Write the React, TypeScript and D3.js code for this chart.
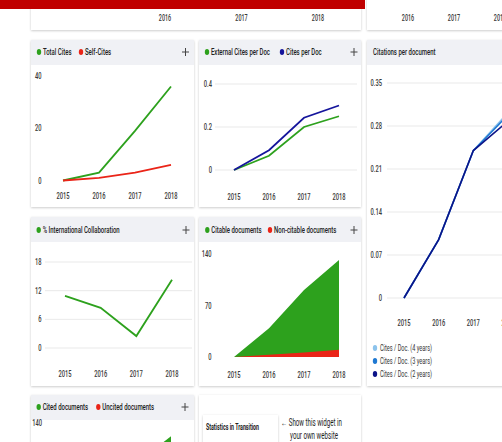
import * as d3 from "d3";

const years = ["2015", "2016", "2017", "2018"];
const topYears = ["2016", "2017", "2018"];

const totalCites = [0, 3, 19, 36];
const selfCites = [0, 1, 3, 6];
const externalCitesPerDoc = [0, 0.066, 0.2, 0.25];
const citesPerDoc = [0, 0.092, 0.243, 0.3];
const citesDoc4 = [0, 0.095, 0.24, 0.302];
const citesDoc3 = [0, 0.095, 0.24, 0.298];
const citesDoc2 = [0, 0.095, 0.24, 0.288];
const intlCollab = [10.9, 8.4, 2.5, 14.3];
const citableDocs = [0, 39, 91, 132];
const nonCitableDocs = [0, 3, 6, 10];
const citedDocs = [0, 37, 84, 122];
const uncitedDocs = [0, 3, 5, 8];

const ticksCites = [0, 20, 40];
const ticksPerDoc = [0, 0.2, 0.4];
const ticksCpd = [0, 0.07, 0.14, 0.21, 0.28, 0.35];
const ticksIntl = [0, 6, 12, 18];
const ticksDocs = [0, 70, 140];

const GREEN = "#2da11d";
const RED = "#ea2418";
const NAVY = "#15159c";
const CPD4 = "#8cc3ec";
const CPD3 = "#1f78d2";
const CPD2 = "#0c1488";
const FONT = "Roboto, 'Liberation Sans', Arial, sans-serif";

function T({ x, y, children, size = 9.5, sx = 0.63, anchor = "start", weight = 400, fill = "#333" }: any) {
  return (
    <text
      transform={`translate(${x},${y}) scale(${sx},1)`}
      fontSize={size}
      textAnchor={anchor}
      fontWeight={weight}
      fill={fill}
      fontFamily={FONT}
      dy="0.35em"
    >
      {children}
    </text>
  );
}

function Card({ x, y, w, h, header = true }: any) {
  return (
    <g>
      <rect x={x} y={y} width={w} height={h} fill="#fff" filter="url(#shadow)" />
      {header && <rect x={x} y={y} width={w} height={25} fill="#f0f1f5" />}
    </g>
  );
}

function Plus({ x, y }: any) {
  return (
    <path d={`M${x - 3.5},${y}H${x + 3.5}M${x},${y - 4}V${y + 4}`} stroke="#444" strokeWidth={1} />
  );
}

function Legend({ items, y }: any) {
  return (
    <g>
      {items.map((it: any, i: number) => (
        <g key={i}>
          <ellipse cx={it.x} cy={y} rx={2.2} ry={2.9} fill={it.color} />
          <T x={it.x + 4} y={y} weight={500} fill="#222">{it.label}</T>
        </g>
      ))}
    </g>
  );
}

function YLabels({ ticks, y, x, fmt = (d: number) => String(d) }: any) {
  return (
    <g>
      {ticks.map((t: number) => (
        <T key={t} x={x} y={y(t)} anchor="end" size={9} sx={0.64} weight={500} fill="#3a3a3a">{fmt(t)}</T>
      ))}
    </g>
  );
}

function XLabels({ x, y }: any) {
  return (
    <g>
      {years.map((yr) => (
        <T key={yr} x={x(yr)} y={y} anchor="middle" size={9} sx={0.64} weight={500} fill="#3a3a3a">{yr}</T>
      ))}
    </g>
  );
}

function Grid({ ticks, y, x0, x1 }: any) {
  return (
    <g>
      {ticks.map((t: number) => (
        <line key={t} x1={x0} x2={x1} y1={y(t)} y2={y(t)} stroke="#e3e3e3" strokeWidth={0.8} />
      ))}
    </g>
  );
}

function linePath(x: any, y: any, vals: number[]) {
  return d3
    .line<number>()
    .x((_, i) => x(years[i]))
    .y((d) => y(d))(vals) as string;
}

function areaPath(x: any, y: any, vals: number[]) {
  return d3
    .area<number>()
    .x((_, i) => x(years[i]))
    .y0(y(0))
    .y1((d) => y(d))(vals) as string;
}

export default function App() {
  // card 1: total cites
  const x1 = d3.scalePoint<string>().domain(years).range([63, 171]);
  const y1 = d3.scaleLinear().domain([0, 40]).range([180.5, 76]);
  // card 2: cites per doc
  const x2 = d3.scalePoint<string>().domain(years).range([234, 339]);
  const y2 = d3.scaleLinear().domain([0, 0.4]).range([170, 84]);
  // card 3: citations per document
  const x3 = d3.scalePoint<string>().domain(years).range([404, 508]);
  const y3 = d3.scaleLinear().domain([0, 0.35]).range([298, 83]);
  // card 4: international collaboration
  const x4 = d3.scalePoint<string>().domain(years).range([65, 172]);
  const y4 = d3.scaleLinear().domain([0, 18]).range([348, 262]);
  // card 5: citable documents
  const x5 = d3.scalePoint<string>().domain(years).range([234, 339]);
  const y5 = d3.scaleLinear().domain([0, 140]).range([357, 254]);
  // card 6: cited documents
  const x6 = d3.scalePoint<string>().domain(years).range([63, 171]);
  const y6 = d3.scaleLinear().domain([0, 140]).range([526, 423]);

  const topX = d3.scalePoint<string>().domain(topYears).range([165, 318]);
  const topX2 = d3.scalePoint<string>().domain(topYears).range([408, 500]);

  return (
    <svg width={502} height={442} style={{ position: "absolute", left: 0, top: 0, background: "#fff" }}>
      <defs>
        <filter id="shadow" x="-5%" y="-5%" width="110%" height="115%">
          <feDropShadow dx="0" dy="0.8" stdDeviation="0.9" floodColor="#000" floodOpacity="0.22" />
        </filter>
        <clipPath id="clip3">
          <rect x={367} y={65} width={140} height={320} />
        </clipPath>
        <clipPath id="clip6">
          <rect x={31} y={420} width={163} height={30} />
        </clipPath>
      </defs>

      {/* top strip */}
      <Card x={31} y={0} w={330} h={30} header={false} />
      <rect x={0} y={0} width={365} height={9} fill="#c00000" />
      <Card x={367} y={-2} w={150} h={32} header={false} />
      {topYears.map((yr) => (
        <T key={"a" + yr} x={topX(yr)} y={18} anchor="middle" size={8.5} sx={0.64} weight={500} fill="#3a3a3a">{yr}</T>
      ))}
      {topYears.map((yr) => (
        <T key={"b" + yr} x={topX2(yr)} y={18} anchor="middle" size={8.5} sx={0.64} weight={500} fill="#3a3a3a">{yr}</T>
      ))}

      {/* card 1 */}
      <Card x={31} y={40} w={163} h={167} />
      <Legend y={52} items={[{ x: 39, color: GREEN, label: "Total Cites" }, { x: 81, color: RED, label: "Self-Cites" }]} />
      <Plus x={185.5} y={52} />
      <YLabels ticks={ticksCites} y={y1} x={41.5} />
      <XLabels x={x1} y={196} />
      <path d={linePath(x1, y1, totalCites)} fill="none" stroke={GREEN} strokeWidth={1.8} />
      <path d={linePath(x1, y1, selfCites)} fill="none" stroke={RED} strokeWidth={1.8} />

      {/* card 2 */}
      <Card x={199} y={40} w={162} h={167} />
      <Legend y={52} items={[{ x: 207, color: GREEN, label: "External Cites per Doc" }, { x: 282, color: NAVY, label: "Cites per Doc" }]} />
      <Plus x={354} y={52} />
      <Grid ticks={ticksPerDoc} y={y2} x0={215} x1={357} />
      <YLabels ticks={ticksPerDoc} y={y2} x={212} />
      <XLabels x={x2} y={197} />
      <path d={linePath(x2, y2, externalCitesPerDoc)} fill="none" stroke={GREEN} strokeWidth={1.8} />
      <path d={linePath(x2, y2, citesPerDoc)} fill="none" stroke={NAVY} strokeWidth={1.8} />

      {/* card 3 */}
      <Card x={367} y={40} w={150} h={346} />
      <T x={373} y={52} weight={500} fill="#222">Citations per document</T>
      <Grid ticks={ticksCpd} y={y3} x0={387} x1={510} />
      <YLabels ticks={ticksCpd} y={y3} x={382} fmt={(d: number) => (d === 0 ? "0" : d.toFixed(2))} />
      <XLabels x={x3} y={323} />
      <g clipPath="url(#clip3)">
        <path d={linePath(x3, y3, citesDoc4)} fill="none" stroke={CPD4} strokeWidth={1.6} />
        <path d={linePath(x3, y3, citesDoc3)} fill="none" stroke={CPD3} strokeWidth={1.6} />
        <path d={linePath(x3, y3, citesDoc2)} fill="none" stroke={CPD2} strokeWidth={1.6} />
      </g>
      {[
        { c: CPD4, l: "Cites / Doc. (4 years)" },
        { c: CPD3, l: "Cites / Doc. (3 years)" },
        { c: CPD2, l: "Cites / Doc. (2 years)" },
      ].map((it, i) => (
        <g key={it.l}>
          <ellipse cx={375} cy={348 + i * 13} rx={2.2} ry={2.9} fill={it.c} />
          <T x={380} y={348 + i * 13} size={9} sx={0.62} fill="#333">{it.l}</T>
        </g>
      ))}

      {/* card 4 */}
      <Card x={31} y={217} w={163} h={169} />
      <Legend y={230} items={[{ x: 38.7, color: GREEN, label: "% International Collaboration" }]} />
      <Plus x={186} y={230} />
      <Grid ticks={ticksIntl} y={y4} x0={45} x1={192} />
      <YLabels ticks={ticksIntl} y={y4} x={41.5} />
      <XLabels x={x4} y={374} />
      <path d={linePath(x4, y4, intlCollab)} fill="none" stroke={GREEN} strokeWidth={1.8} />

      {/* card 5 */}
      <Card x={199} y={217} w={162} h={169} />
      <Legend y={230} items={[{ x: 207.3, color: GREEN, label: "Citable documents" }, { x: 270, color: RED, label: "Non-citable documents" }]} />
      <Plus x={354} y={230} />
      <YLabels ticks={ticksDocs} y={y5} x={211.5} />
      <XLabels x={x5} y={375} />
      <path d={areaPath(x5, y5, citableDocs)} fill={GREEN} />
      <path d={areaPath(x5, y5, nonCitableDocs)} fill={RED} />

      {/* card 6 */}
      <Card x={31} y={395} w={163} h={60} />
      <Legend y={407} items={[{ x: 38.7, color: GREEN, label: "Cited documents" }, { x: 98.3, color: RED, label: "Uncited documents" }]} />
      <Plus x={185} y={407} />
      <YLabels ticks={[140]} y={y6} x={42} />
      <g clipPath="url(#clip6)">
        <path d={areaPath(x6, y6, citedDocs)} fill={GREEN} />
        <path d={areaPath(x6, y6, uncitedDocs)} fill={RED} />
      </g>

      {/* card 7: widget */}
      <Card x={199} y={395} w={162} h={60} header={false} />
      <rect x={203} y={415} width={75} height={40} fill="#fff" filter="url(#shadow)" />
      <T x={206} y={427} size={8.5} sx={0.62} weight={700} fill="#222">Statistics in Transition</T>
      <T x={281} y={422} size={10} sx={0.62} fill="#222">← Show this widget in</T>
      <T x={290} y={435} size={10} sx={0.62} fill="#222">your own website</T>
    </svg>
  );
}
